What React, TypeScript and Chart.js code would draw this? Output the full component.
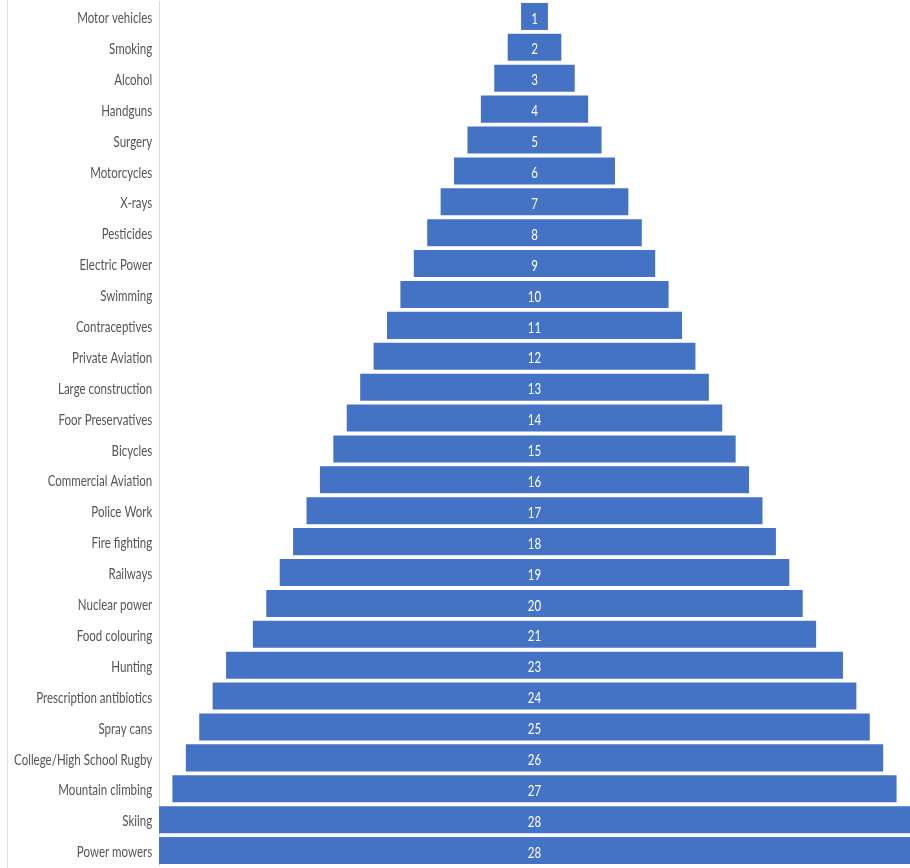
import React, { useEffect, useRef } from "react";
import { Chart, registerables } from "chart.js";

Chart.register(...registerables);

const categories: string[] = [
  "Motor vehicles",
  "Smoking",
  "Alcohol",
  "Handguns",
  "Surgery",
  "Motorcycles",
  "X-rays",
  "Pesticides",
  "Electric Power",
  "Swimming",
  "Contraceptives",
  "Private Aviation",
  "Large construction",
  "Foor Preservatives",
  "Bicycles",
  "Commercial Aviation",
  "Police Work",
  "Fire fighting",
  "Railways",
  "Nuclear power",
  "Food colouring",
  "Hunting",
  "Prescription antibiotics",
  "Spray cans",
  "College/High School Rugby",
  "Mountain climbing",
  "Skiing",
  "Power mowers",
];

const ranks: number[] = [
  1, 2, 3, 4, 5, 6, 7, 8, 9, 10, 11, 12, 13, 14, 15, 16, 17, 18, 19, 20, 21, 23,
  24, 25, 26, 27, 28, 28,
];

const FONT = "Lato, 'Open Sans', sans-serif";
const FONT_SIZE = 16;
// horizontal squeeze applied to all text, giving a narrow typeface
const SQUEEZE = 0.72;

// Writes each rank in the middle of its bar
const centerLabels = {
  id: "centerLabels",
  afterDatasetsDraw(chart: any) {
    const { ctx } = chart;
    const meta = chart.getDatasetMeta(0);
    ctx.save();
    ctx.fillStyle = "#ffffff";
    ctx.font = `${FONT_SIZE}px ${FONT}`;
    ctx.textAlign = "center";
    ctx.textBaseline = "middle";
    meta.data.forEach((bar: any, i: number) => {
      const p = bar.getProps(["x", "base", "y"], true);
      const cx = (p.x + p.base) / 2;
      ctx.save();
      ctx.translate(cx, p.y + 2);
      ctx.scale(SQUEEZE, 1);
      ctx.fillText(String(ranks[i]), 0, 0);
      ctx.restore();
    });
    ctx.restore();
  },
};

// Narrows the category labels, anchored on their right edge
const narrowTicks = {
  id: "narrowTicks",
  beforeDraw(chart: any) {
    const y = chart.scales.y;
    if (y._narrowed) return;
    y._narrowed = true;
    const orig = y.drawLabels.bind(y);
    y.drawLabels = (area: any) => {
      const ctx = chart.ctx;
      const anchor = y.right - y.options.ticks.padding;
      const left = y.left;
      ctx.save();
      ctx.translate(anchor, 1.5);
      ctx.scale(SQUEEZE, 1);
      ctx.translate(-anchor, 0);
      // widen the label clip box so it still spans the canvas after the squeeze
      y.left = -1000;
      orig(area);
      y.left = left;
      ctx.restore();
    };
  },
};

export default function App() {
  const canvasRef = useRef<HTMLCanvasElement | null>(null);

  useEffect(() => {
    document.body.style.margin = "0";
    const canvas = canvasRef.current;
    if (!canvas) return;
    const chart = new Chart(canvas, {
      type: "bar",
      data: {
        labels: categories,
        datasets: [
          {
            data: ranks.map((v) => [-v / 2, v / 2]) as any,
            backgroundColor: "#4472C4",
            borderWidth: 0,
            categoryPercentage: 1,
            barPercentage: 0.875,
          },
        ],
      },
      options: {
        indexAxis: "y",
        animation: false,
        responsive: false,
        maintainAspectRatio: false,
        layout: { padding: { top: 1, bottom: 2, left: 0, right: 0 } },
        plugins: {
          legend: { display: false },
          tooltip: { enabled: false },
        },
        scales: {
          x: {
            display: false,
            min: -14,
            max: 14,
          },
          y: {
            afterFit(scale: any) {
              scale.width = 159;
              scale.paddingTop = 0;
              scale.paddingBottom = 0;
            },
            grid: { display: false },
            border: { display: true, color: "#d9d9d9", width: 1 },
            ticks: {
              color: "#555555",
              padding: 1,
              autoSkip: false,
              font: { family: FONT, size: FONT_SIZE },
            },
          },
        },
      },
      plugins: [centerLabels, narrowTicks],
    });
    return () => chart.destroy();
  }, []);

  return (
    <div style={{ position: "relative", width: 910, height: 868, background: "#ffffff" }}>
      <div
        style={{
          position: "absolute",
          left: 7,
          top: 0,
          width: 1,
          height: 868,
          background: "#e3e3e3",
        }}
      />
      <canvas
        ref={canvasRef}
        width={910}
        height={868}
        style={{ display: "block", position: "relative" }}
      />
    </div>
  );
}
